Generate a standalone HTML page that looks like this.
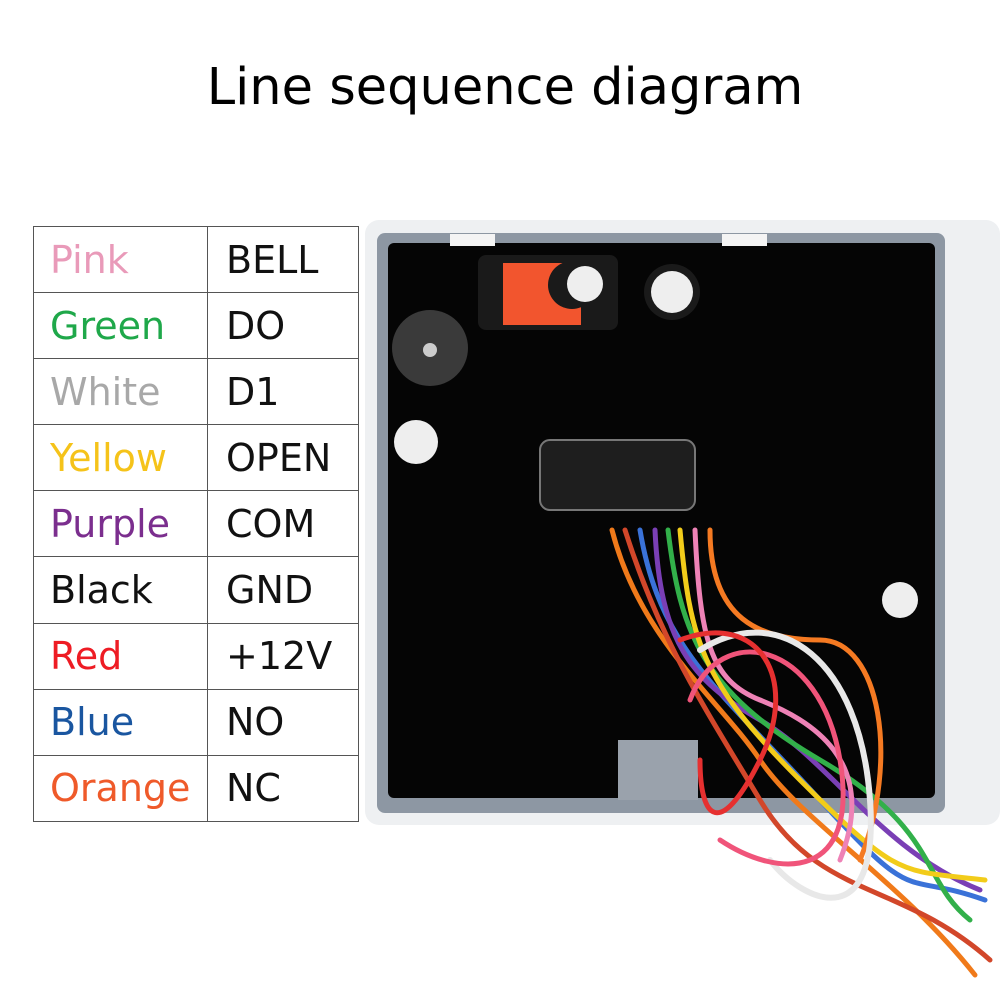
<!DOCTYPE html>
<html><head><meta charset="utf-8"><style>
html,body{margin:0;padding:0;background:#fff;width:1000px;height:1000px;overflow:hidden;position:relative}
.title{position:absolute;top:58px;left:0;width:1010px;text-align:center;font:500 51px "DejaVu Sans","Liberation Sans",sans-serif;color:#000}
table{position:absolute;left:33px;top:226px;border-collapse:collapse}
td{border:1px solid #555;height:66.1px;padding:0;font:38px "DejaVu Sans","Liberation Sans",sans-serif;vertical-align:middle}
td.a{width:174px;padding-left:16px;box-sizing:border-box}
td.b{width:151px;padding-left:18px;box-sizing:border-box;color:#111}
svg{position:absolute;left:0;top:0}
</style></head><body>
<div class="title">Line sequence diagram</div>
<svg width="1000" height="1000">
<rect x="365" y="220" width="635" height="605" rx="14" fill="#eef0f2"/>
<rect x="377" y="233" width="568" height="580" rx="8" fill="#8d97a3"/>
<rect x="388" y="243" width="547" height="555" rx="6" fill="#050505"/>
<rect x="450" y="234" width="45" height="12" fill="#f4f4f4"/>
<rect x="722" y="234" width="45" height="12" fill="#f4f4f4"/>
<rect x="618" y="740" width="80" height="60" fill="#9aa2ac"/>
<rect x="478" y="255" width="140" height="75" rx="8" fill="#1a1a1a"/>
<rect x="503" y="263" width="78" height="62" fill="#f2552e"/>
<circle cx="572" cy="285" r="24" fill="#1a1a1a"/>
<circle cx="585" cy="284" r="18" fill="#eee"/>
<circle cx="672" cy="292" r="28" fill="#1a1a1a"/>
<circle cx="672" cy="292" r="21" fill="#eee"/>
<circle cx="430" cy="348" r="38" fill="#3a3a3a"/>
<circle cx="430" cy="350" r="7" fill="#ccc"/>
<circle cx="416" cy="442" r="22" fill="#eee"/>
<circle cx="900" cy="600" r="18" fill="#eee"/>
<rect x="540" y="440" width="155" height="70" rx="10" fill="#1e1e1e" stroke="#777" stroke-width="2"/>
<g fill="none" stroke-width="5" stroke-linecap="round">
<path d="M612 530 C640 640 720 700 760 760 S900 880 975 975" stroke="#f07a1a"/>
<path d="M625 530 C660 640 700 700 760 800 S900 880 990 960" stroke="#d2472a"/>
<path d="M640 530 C660 650 720 690 820 800 S900 870 985 900" stroke="#3a72d8"/>
<path d="M655 530 C660 640 690 680 760 720 S880 850 980 890" stroke="#7a3fb5"/>
<path d="M668 530 C680 630 700 690 820 760 S920 880 970 920" stroke="#32b04a"/>
<path d="M680 530 C690 640 700 680 800 780 S900 870 985 880" stroke="#f2cc1a"/>
<path d="M695 530 C700 640 710 680 760 700 S880 760 840 860" stroke="#ee82b6"/>
<path d="M710 530 C710 620 760 640 820 640 S900 760 860 860" stroke="#f57a22"/>
<path d="M700 650 C780 600 860 660 870 800 S800 900 770 860" stroke="#e8e8e8" stroke-width="6"/>
<path d="M690 700 C720 620 820 640 840 760 S780 880 720 840" stroke="#f0547a"/>
<path d="M680 640 C760 610 800 680 760 760 S700 820 700 760" stroke="#e63030"/>
</g>
</svg>
<table>
<tr><td class="a" style="color:#e99ab9">Pink</td><td class="b">BELL</td></tr>
<tr><td class="a" style="color:#1fa84a">Green</td><td class="b">DO</td></tr>
<tr><td class="a" style="color:#a8a8a8">White</td><td class="b">D1</td></tr>
<tr><td class="a" style="color:#f5c31a">Yellow</td><td class="b">OPEN</td></tr>
<tr><td class="a" style="color:#7b2e8e">Purple</td><td class="b">COM</td></tr>
<tr><td class="a" style="color:#111">Black</td><td class="b">GND</td></tr>
<tr><td class="a" style="color:#ee1c24">Red</td><td class="b">+12V</td></tr>
<tr><td class="a" style="color:#1a56a0">Blue</td><td class="b">NO</td></tr>
<tr><td class="a" style="color:#ef5a2a">Orange</td><td class="b">NC</td></tr>
</table>
</body></html>
